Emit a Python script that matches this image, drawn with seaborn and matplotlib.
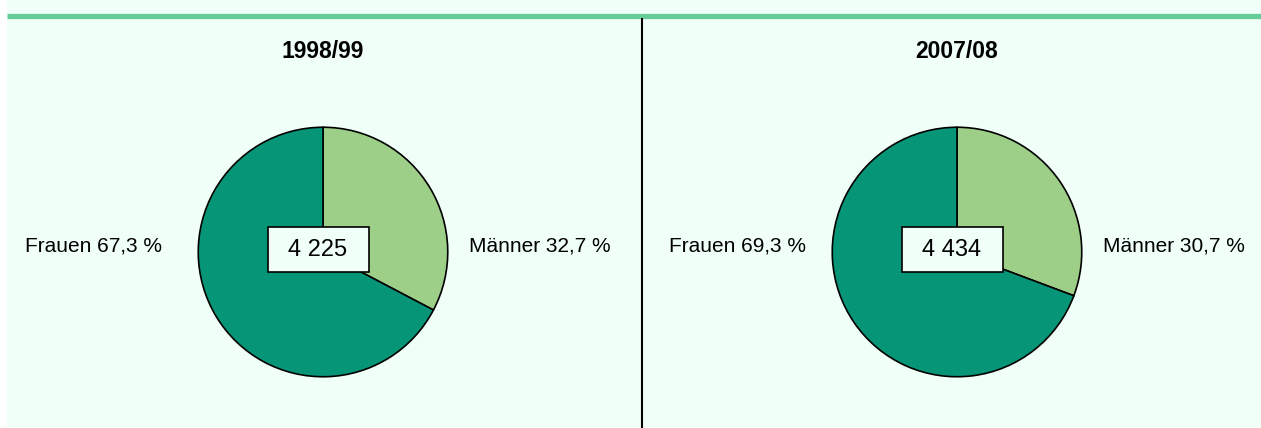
import matplotlib
matplotlib.use("Agg")
import matplotlib.pyplot as plt
import seaborn as sns
from matplotlib.patches import Rectangle
from matplotlib.lines import Line2D

# data
years = ["1998/99", "2007/08"]
totals = ["4 225", "4 434"]
groups = ["Männer", "Frauen"]
maenner = [32.7, 30.7]
frauen = [67.3, 69.3]

sns.set_theme(style="white")
plt.rcParams["font.family"] = ["Liberation Sans", "DejaVu Sans"]
plt.rcParams["text.color"] = "black"

bg = "#F0FFF8"
colors = ["#9ECF88", "#069677"]

W, H = 1261, 428
fig = plt.figure(figsize=(W / 100, H / 100), dpi=100, facecolor="white")
fig.patches.append(Rectangle((7 / W, 0), 1, 1, transform=fig.transFigure,
                             facecolor=bg, edgecolor="none", zorder=-10))
# green rule on top and vertical divider
fig.add_artist(Line2D([7 / W, 1], [1 - 15.5 / H, 1 - 15.5 / H], color="#66CC99",
                      lw=3.8, solid_capstyle="butt"))
fig.add_artist(Line2D([642 / W, 642 / W], [0, 1 - 18 / H], color="black",
                      lw=1.5, solid_capstyle="butt"))

centers = [323, 957]
label_x = [(-1.29, 1.17), (-1.21, 1.17)]
r = 126
for i, cx in enumerate(centers):
    cy = 252
    ax = fig.add_axes([(cx - r) / W, (H - cy - r) / H, 2 * r / W, 2 * r / H])
    ax.set_facecolor("none")
    ax.set_zorder(2)
    vals = [maenner[i], frauen[i]]
    ax.pie(vals, colors=colors, startangle=90, counterclock=False, radius=1,
           wedgeprops=dict(edgecolor="black", linewidth=1.2))
    ax.set_xlim(-1.01, 1.01)
    ax.set_ylim(-1.01, 1.01)
    ax.set_aspect("equal")
    ax.axis("off")

    ax.text(0, 1.61, years[i], ha="center", va="center", fontsize=16.5,
            fontweight="bold", clip_on=False)
    ax.text(label_x[i][0], 0.05, f"{groups[1]} {frauen[i]:.1f} %".replace(".", ","),
            ha="right", va="center", fontsize=15, clip_on=False)
    ax.text(label_x[i][1], 0.05, f"{groups[0]} {maenner[i]:.1f} %".replace(".", ","),
            ha="left", va="center", fontsize=15, clip_on=False)
    ax.add_patch(Rectangle((-0.437, -0.159), 0.802, 0.357, facecolor=bg,
                           edgecolor="black", linewidth=1.2, zorder=5))
    ax.text(-0.04, 0.02, totals[i], ha="center", va="center", fontsize=17, zorder=6)

fig.savefig("out.png", dpi=100, facecolor=fig.get_facecolor())
